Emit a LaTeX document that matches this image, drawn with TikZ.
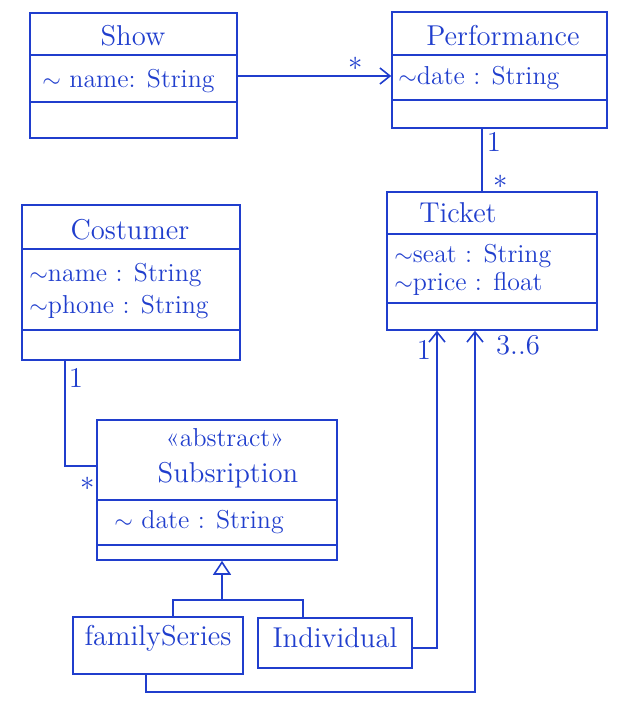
\documentclass[tikz,border=0pt]{standalone}
\usetikzlibrary{arrows.meta,fit}
\definecolor{pen}{RGB}{32,62,205}
\tikzset{
  classbox/.style={draw=pen, line width=0.8pt, inner sep=0pt, fit={#1}},
  title/.style={text=pen, font=\Large},
  attr/.style={text=pen, font=\fontsize{13}{15}\selectfont, anchor=west, inner sep=1pt},
  mult/.style={text=pen, font=\Large, inner sep=1pt},
  link/.style={draw=pen, line width=0.8pt},
  nav/.style={link, -{Straight Barb[length=5bp,width=8bp]}},
}
\begin{document}
\begin{tikzpicture}[x=0.5bp,y=-0.5bp]
    \useasboundingbox (0,0) rectangle (619,715);
    % classes
    \node[classbox={(30,13) (237,138)}]   (show)   {};
    \node[classbox={(392,12) (607,128)}]  (perf)   {};
    \node[classbox={(387,192) (597,330)}] (ticket) {};
    \node[classbox={(22,205) (240,360)}]  (cust)   {};
    \node[classbox={(97,420) (337,560)}]  (sub)    {};
    \node[classbox={(73,617) (243,674)}]  (fam)    {};
    \node[classbox={(258,618) (412,668)}] (ind)    {};
    % compartments
    \draw[link] (show.west |- 0,55) -- (show.east |- 0,55);
    \draw[link] (show.west |- 0,102) -- (show.east |- 0,102);
    \draw[link] (perf.west |- 0,55) -- (perf.east |- 0,55);
    \draw[link] (perf.west |- 0,100) -- (perf.east |- 0,100);
    \draw[link] (ticket.west |- 0,234) -- (ticket.east |- 0,234);
    \draw[link] (ticket.west |- 0,303) -- (ticket.east |- 0,303);
    \draw[link] (cust.west |- 0,249) -- (cust.east |- 0,249);
    \draw[link] (cust.west |- 0,330) -- (cust.east |- 0,330);
    \draw[link] (sub.west |- 0,500) -- (sub.east |- 0,500);
    \draw[link] (sub.west |- 0,545) -- (sub.east |- 0,545);
    % texts
    \node[title] (showT)   at (133,36)  {Show};
    \node[attr]  (showA)   at (40,81)   {$\sim$ name: String};
    \node[title] (perfT)   at (503,36)  {Performance};
    \node[attr]  (perfA)   at (396,78)  {$\sim$date : String};
    \node[title] (ticketT) at (458,213) {Ticket};
    \node[attr]  (ticketA) at (392,256) {$\sim$seat : String};
    \node[attr]  (ticketB) at (392,284) {$\sim$price : float};
    \node[title] (custT)   at (130,230) {Costumer};
    \node[attr]  (custA)   at (27,275)  {$\sim$name : String};
    \node[attr]  (custB)   at (27,307)  {$\sim$phone : String};
    \node[attr, anchor=center] (subS) at (225,438) {«abstract»};
    \node[title] (subT)    at (228,475) {Subsription};
    \node[attr]  (subA)    at (112,522) {$\sim$ date : String};
    \node[title] (famT)    at (158,638) {familySeries};
    \node[title] (indT)    at (335,638) {Individual};
    % associations
    \draw[nav] (show.east |- 0,76) -- (perf.west |- 0,76);
    \node[mult] (m1) at (356,64) {$*$};
    \draw[link] (perf.south -| 482,0) -- (ticket.north -| 482,0);
    \node[mult] (m2) at (494,142) {1};
    \node[mult] (m3) at (501,182) {$*$};
    \draw[link] (cust.south -| 65,0) |- (sub.west |- 0,466);
    \node[mult] (m4) at (76,378) {1};
    \node[mult] (m5) at (88,484) {$*$};
    \draw[nav] (ind.east |- 0,648) -| (ticket.south -| 437,0);
    \node[mult] (m6) at (424,350) {1};
    \draw[nav] (fam.south -| 146,0) -- (146,692) -| (ticket.south -| 475,0);
    \node[mult] (m7) at (518,345) {3..6};
    % generalization
    \draw[link, -{Triangle[open,length=7bp,width=9bp]}] (ind.north -| 303,0) |- (222,600) -- (sub.south -| 222,0);
    \draw[link] (fam.north -| 173,0) |- (222,600);
\end{tikzpicture}
\end{document}
